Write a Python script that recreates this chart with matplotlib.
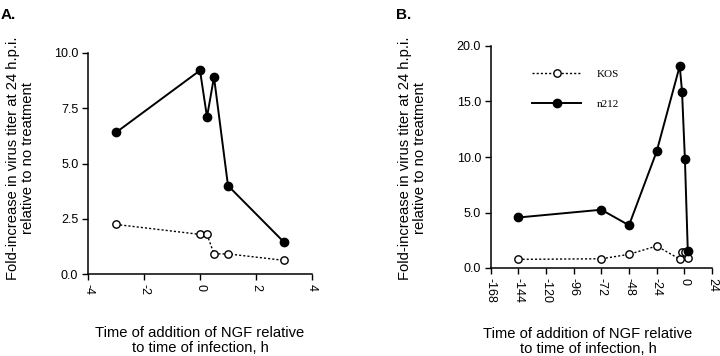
import matplotlib
matplotlib.use("Agg")
import matplotlib.pyplot as plt

plt.rcParams['font.family'] = ['Liberation Sans', 'DejaVu Sans']

# Panel A data
a_time_n212 = [-3, 0, 0.25, 0.5, 1, 3]
a_n212 = [6.4, 9.2, 7.1, 8.9, 4.0, 1.45]
a_time_kos = [-3, 0, 0.25, 0.5, 1, 3]
a_kos = [2.25, 1.8, 1.8, 0.92, 0.92, 0.63]

# Panel B data
b_time_n212 = [-144, -72, -48, -24, -4, -2, 0.5, 3]
b_n212 = [4.55, 5.25, 3.85, 10.5, 18.2, 15.9, 9.8, 1.55]
b_time_kos = [-144, -72, -48, -24, -4, -2, 0.5, 3]
b_kos = [0.78, 0.83, 1.23, 1.98, 0.8, 1.42, 1.42, 0.88]

a_xticks = [-4, -2, 0, 2, 4]
a_yticks = [0.0, 2.5, 5.0, 7.5, 10.0]
b_xticks = [-168, -144, -120, -96, -72, -48, -24, 0, 24]
b_yticks = [0.0, 5.0, 10.0, 15.0, 20.0]

ylabel = "Fold-increase in virus titer at 24 h.p.i.\nrelative to no treatment"
xlabel = "Time of addition of NGF relative\nto time of infection, h"

fig = plt.figure(figsize=(7.2, 3.56), dpi=100)
axA = fig.add_axes([88/720, (356-274.3)/356, 224/720, 221.6/356])
axB = fig.add_axes([490.7/720, (356-268)/356, 221.3/720, 222/356])

kos_style = dict(color='black', lw=1.0, linestyle=(0, (1.5, 1.5)), marker='o',
                 markersize=5.3, markerfacecolor='white', markeredgecolor='black',
                 markeredgewidth=1.0, clip_on=False, zorder=3)
n212_style = dict(color='black', lw=1.4, linestyle='-', marker='o',
                  markersize=6.0, markerfacecolor='black', markeredgecolor='black',
                  clip_on=False, zorder=4)

axA.plot(a_time_kos, a_kos, label='KOS', **kos_style)
axA.plot(a_time_n212, a_n212, label='n212', **n212_style)
lk, = axB.plot(b_time_kos, b_kos, label='KOS', **kos_style)
ln, = axB.plot(b_time_n212, b_n212, label='n212', **n212_style)

for ax, xt, yt in [(axA, a_xticks, a_yticks), (axB, b_xticks, b_yticks)]:
    ax.set_xlim(xt[0], xt[-1])
    ax.set_ylim(yt[0], yt[-1])
    ax.set_xticks(xt)
    ax.set_yticks(yt)
    ax.set_xticklabels([str(v) for v in xt], rotation=270, fontsize=9)
    ax.set_yticklabels([f"{v:.1f}" for v in yt], fontsize=9)
    ax.spines['top'].set_visible(False)
    ax.spines['right'].set_visible(False)
    ax.spines['left'].set_linewidth(1.1)
    ax.spines['bottom'].set_linewidth(1.1)
    ax.tick_params(direction='out', length=4, width=1.0, pad=3)
    ax.set_ylabel(ylabel, fontsize=10.6, linespacing=1.1)
    ax.set_xlabel(xlabel, fontsize=10.6, linespacing=1.1)

axA.yaxis.set_label_coords(-0.237, 0.525)
axA.xaxis.set_label_coords(0.5, -0.233)
axB.yaxis.set_label_coords(-0.288, 0.495)
axB.xaxis.set_label_coords(0.44, -0.266)

leg = axB.legend(handles=[lk, ln], loc='center left', bbox_to_anchor=(0.187, 0.806),
                 frameon=False, handlelength=4.4, handletextpad=1.4,
                 labelspacing=1.75, borderpad=0, borderaxespad=0,
                 prop={'family': 'Liberation Serif', 'size': 8})

fig.text(1/720, 1 - 19/356, 'A.', fontsize=11, fontweight='bold')
fig.text(396/720, 1 - 19/356, 'B.', fontsize=11, fontweight='bold')

fig.savefig('out.png', dpi=100)
